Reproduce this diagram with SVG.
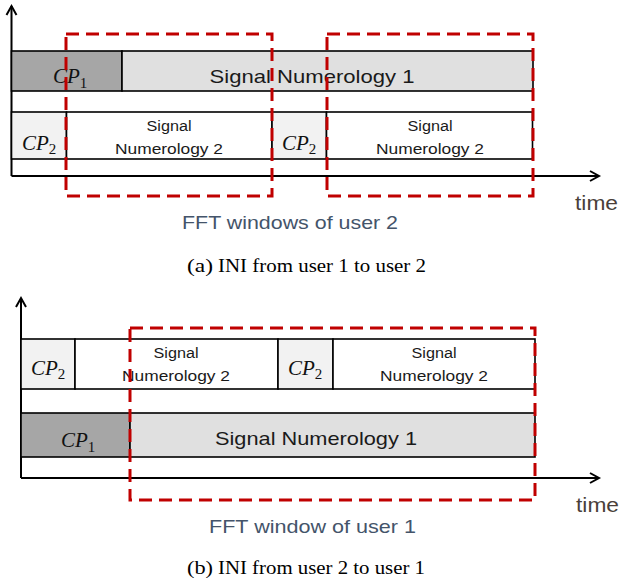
<svg xmlns="http://www.w3.org/2000/svg" width="619" height="582" viewBox="0 0 619 582">
<style>
.box{stroke:#000;stroke-width:1.6}
.cp1{fill:#a6a6a6}
.sig1{fill:#e0e0e0}
.cp2{fill:#f2f2f2}
.sig2{fill:#fff}
.axis{fill:none;stroke:#000;stroke-width:2}
.win{fill:none;stroke:#c00000;stroke-width:3;stroke-dasharray:13 7}
.lbl{font-family:"Liberation Sans",Arial,sans-serif;fill:#1a1a1a;text-anchor:middle}
.big{font-size:19px}
.small{font-size:15.5px}
.cp{font-family:"Liberation Serif","Times New Roman",serif;font-size:21px;fill:#111}
.cp tspan.i{font-style:italic}
.fft{font-family:"Liberation Sans",Arial,sans-serif;font-size:19px;fill:#44546a;text-anchor:middle}
.time{font-family:"Liberation Sans",Arial,sans-serif;font-size:20px;fill:#4a3f3a}
.cap{font-family:"Liberation Serif","Times New Roman",serif;font-size:18.5px;fill:#000}
</style>

<g id="panel-a">
  <g id="a-axes">
    <path class="axis" d="M11.5,176 V6 M11.5,176 H599"/>
    <path class="axis" d="M6.5,15 L11.5,6 L16.5,15 M590,171 L599,176 L590,181"/>
  </g>
  <g id="a-cp1">
    <rect class="box cp1" x="11.5" y="51" width="110.5" height="40"/>
    <text class="cp" x="53" y="83"><tspan class="i">CP</tspan><tspan font-size="15" dy="5">1</tspan></text>
  </g>
  <g id="a-sig1">
    <rect class="box sig1" x="122" y="51" width="411" height="40"/>
    <text class="lbl big" x="312" y="83" textLength="205" lengthAdjust="spacingAndGlyphs">Signal Numerology 1</text>
  </g>
  <g id="a-cp2-1">
    <rect class="box cp2" x="11.5" y="112" width="55" height="47"/>
    <text class="cp" x="22" y="150"><tspan class="i">CP</tspan><tspan font-size="15" dy="4">2</tspan></text>
  </g>
  <g id="a-sig2-1">
    <rect class="box sig2" x="66.5" y="112" width="205.5" height="47"/>
    <text class="lbl small" x="169" y="131" textLength="45" lengthAdjust="spacingAndGlyphs">Signal</text>
    <text class="lbl small" x="169" y="154" textLength="108" lengthAdjust="spacingAndGlyphs">Numerology 2</text>
  </g>
  <g id="a-cp2-2">
    <rect class="box cp2" x="272" y="112" width="54.5" height="47"/>
    <text class="cp" x="282" y="150"><tspan class="i">CP</tspan><tspan font-size="15" dy="4">2</tspan></text>
  </g>
  <g id="a-sig2-2">
    <rect class="box sig2" x="326.5" y="112" width="206" height="47"/>
    <text class="lbl small" x="430" y="131" textLength="45" lengthAdjust="spacingAndGlyphs">Signal</text>
    <text class="lbl small" x="430" y="154" textLength="108" lengthAdjust="spacingAndGlyphs">Numerology 2</text>
  </g>
  <g id="a-windows">
    <rect class="win" x="66" y="34" width="206" height="162"/>
    <rect class="win" x="327" y="34" width="206" height="162"/>
  </g>
  <text class="time" x="575" y="210" textLength="43" lengthAdjust="spacingAndGlyphs">time</text>
  <text class="fft" x="290" y="229" textLength="216" lengthAdjust="spacingAndGlyphs">FFT windows of user 2</text>
  <text class="cap" x="187" y="272" textLength="26" lengthAdjust="spacingAndGlyphs">(a)</text>
  <text class="cap" x="218" y="272" textLength="208" lengthAdjust="spacingAndGlyphs">INI from user 1 to user 2</text>
</g>

<g id="panel-b">
  <g id="b-axes">
    <path class="axis" d="M21,478 V298 M21,478 H599"/>
    <path class="axis" d="M16,307 L21,298 L26,307 M590,473 L599,478 L590,483"/>
  </g>
  <g id="b-cp2-1">
    <rect class="box cp2" x="21" y="339" width="54" height="50"/>
    <text class="cp" x="31" y="375"><tspan class="i">CP</tspan><tspan font-size="15" dy="4">2</tspan></text>
  </g>
  <g id="b-sig2-1">
    <rect class="box sig2" x="75" y="339" width="203" height="50"/>
    <text class="lbl small" x="176" y="358" textLength="45" lengthAdjust="spacingAndGlyphs">Signal</text>
    <text class="lbl small" x="176" y="381" textLength="108" lengthAdjust="spacingAndGlyphs">Numerology 2</text>
  </g>
  <g id="b-cp2-2">
    <rect class="box cp2" x="278" y="339" width="55" height="50"/>
    <text class="cp" x="288" y="375"><tspan class="i">CP</tspan><tspan font-size="15" dy="4">2</tspan></text>
  </g>
  <g id="b-sig2-2">
    <rect class="box sig2" x="333" y="339" width="202" height="50"/>
    <text class="lbl small" x="434" y="358" textLength="45" lengthAdjust="spacingAndGlyphs">Signal</text>
    <text class="lbl small" x="434" y="381" textLength="108" lengthAdjust="spacingAndGlyphs">Numerology 2</text>
  </g>
  <g id="b-cp1">
    <rect class="box cp1" x="21" y="413" width="109" height="44"/>
    <text class="cp" x="61" y="447"><tspan class="i">CP</tspan><tspan font-size="15" dy="5">1</tspan></text>
  </g>
  <g id="b-sig1">
    <rect class="box sig1" x="130" y="413" width="405" height="44"/>
    <text class="lbl big" x="316" y="445" textLength="202" lengthAdjust="spacingAndGlyphs">Signal Numerology 1</text>
  </g>
  <g id="b-window">
    <rect class="win" x="130" y="328" width="405" height="172"/>
  </g>
  <text class="time" x="576" y="512" textLength="43" lengthAdjust="spacingAndGlyphs">time</text>
  <text class="fft" x="312.5" y="533" textLength="207" lengthAdjust="spacingAndGlyphs">FFT window of user 1</text>
  <text class="cap" x="187" y="574" textLength="26" lengthAdjust="spacingAndGlyphs">(b)</text>
  <text class="cap" x="218" y="574" textLength="207" lengthAdjust="spacingAndGlyphs">INI from user 2 to user 1</text>
</g>
</svg>
